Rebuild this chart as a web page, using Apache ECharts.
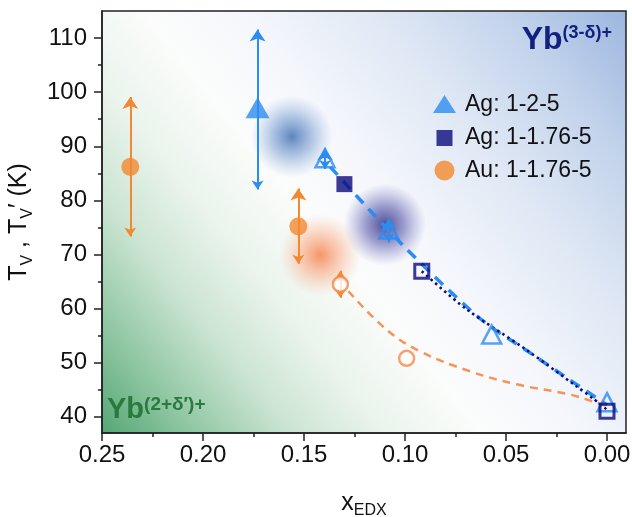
<!DOCTYPE html>
<html><head><meta charset="utf-8">
<script src="https://cdn.jsdelivr.net/npm/echarts@6/dist/echarts.min.js"></script>
<style>html,body{margin:0;padding:0;background:#fff}#c{width:632px;height:517px}</style>
</head><body><div id="c"></div>
<script>
// ---- tick values ----
const xTicks = [0, 0.05, 0.10, 0.15, 0.20, 0.25];
const xMinorTicks = [0.025, 0.075, 0.125, 0.175, 0.225];
const yTicks = [40, 50, 60, 70, 80, 90, 100, 110];
const yMinorTicks = [45, 55, 65, 75, 85, 95, 105];

// ---- Ag: 1-2-5 ----
const agA_filledX = [0.173];
const agA_filledY = [97.1];
const agA_openX = [0.1396, 0.108, 0.0571, 0.0];
const agA_openY = [87.8, 74.6, 55.2, 42.7];
// ---- Ag: 1-1.76-5 ----
const agB_filledX = [0.130];
const agB_filledY = [83.0];
const agB_openX = [0.0917, 0.0];
const agB_openY = [66.9, 41.0];
// ---- Au: 1-1.76-5 ----
const au_filledX = [0.236, 0.1528];
const au_filledY = [86.2, 75.2];
const au_openX = [0.132, 0.0992];
const au_openY = [64.5, 50.8];

// ---- error bars (arrow tips) ----
const errX    = [0.173, 0.236, 0.1528, 0.1396, 0.108, 0.132];
const errLow  = [82.0, 73.3, 68.3, 85.8, 72.2, 62.0];
const errHigh = [111.6, 99.1, 82.2, 89.6, 76.6, 67.0];
const errSet  = ['ag', 'au', 'au', 'ag', 'ag', 'au'];

// ---- fit curves ----
const fitAgAX = [0.137, 0.12, 0.10, 0.08, 0.06, 0.04, 0.02, 0.0];
const fitAgAY = [86.2, 79.2, 71.3, 64.0, 57.3, 52.3, 47.2, 42.2];
const fitAgBX = [0.0917, 0.07, 0.04, 0.015, 0.007, 0.0];
const fitAgBY = [66.9, 60.0, 52.4, 45.6, 43.4, 41.3];
const fitAuX = [0.128, 0.1091, 0.0926, 0.0678, 0.0447, 0.0183, 0.0051, 0.0];
const fitAuY = [63.2, 56.1, 52.1, 48.4, 46.0, 44.1, 42.6, 42.0];

// ---- glow blobs ----
const blobX = [0.156, 0.110, 0.142];
const blobY = [91.8, 75.5, 69.9];

const zip = (xs, ys) => xs.map((x, i) => [x, ys[i]]);
const C_BLUE = '#2d8cf0', C_NAVY = '#0b0b7d', C_ORANGE = '#f2882f';
const FONT = 'Liberation Sans, Arial, sans-serif';

const blobStyles = [
  ['rgba(45,95,170,0.95)', 'rgba(70,120,190,0.55)', 'rgba(110,150,210,0)'],
  ['rgba(25,25,120,0.95)', 'rgba(50,50,150,0.6)', 'rgba(90,90,180,0)'],
  ['rgba(245,115,55,0.95)', 'rgba(248,140,90,0.55)', 'rgba(250,170,130,0)']
];
const blobData = blobX.map((x, i) => ({
  value: [x, blobY[i]],
  itemStyle: { color: new echarts.graphic.RadialGradient(0.5, 0.5, 0.5, [
    { offset: 0, color: blobStyles[i][0] },
    { offset: 0.45, color: blobStyles[i][1] },
    { offset: 1, color: blobStyles[i][2] }
  ]) }
}));

const errData = errX.map((x, i) => ({
  coords: [[x, errLow[i]], [x, errHigh[i]]],
  lineStyle: { color: errSet[i] === 'ag' ? C_BLUE : C_ORANGE }
}));

const bg = new echarts.graphic.LinearGradient(0, 1, 1, 0, [
  { offset: 0, color: '#55a674' },
  { offset: 0.1, color: '#8cc5a0' },
  { offset: 0.22, color: '#cbe4d2' },
  { offset: 0.33, color: '#ebf4ed' },
  { offset: 0.44, color: '#fbfcfb' },
  { offset: 0.55, color: '#f5f7fc' },
  { offset: 0.7, color: '#e1e9f5' },
  { offset: 0.85, color: '#c4d4ec' },
  { offset: 1, color: '#9bb6de' }
]);

const chart = echarts.init(document.getElementById('c'), null, { renderer: 'canvas' });
const axisLineStyle = { color: '#222', width: 1.5 };
const option = {
  animation: false,
  backgroundColor: '#fff',
  grid: { left: 102, right: 6, top: 11, bottom: 84, show: true, backgroundColor: bg,
          borderColor: '#222', borderWidth: 1.5, containLabel: false, outerBoundsMode: 'none' },
  xAxis: [{
    type: 'value', inverse: true, min: -0.0094, max: 0.25, position: 'bottom',
    axisLine: { show: true, onZero: false, lineStyle: axisLineStyle },
    axisTick: { show: true, length: 8, lineStyle: axisLineStyle, customValues: xTicks },
    axisLabel: { customValues: xTicks, fontSize: 24, color: '#111', fontFamily: FONT, margin: 10,
                 formatter: v => v.toFixed(2) },
    splitLine: { show: false },
    name: '{m|x}{s|EDX}', nameLocation: 'middle', nameGap: 55,
    nameTextStyle: { rich: {
      m: { fontSize: 25, fontFamily: FONT, color: '#111', lineHeight: 25 },
      s: { fontSize: 16, fontFamily: FONT, color: '#111', lineHeight: 31, verticalAlign: 'bottom' }
    } }
  }, {
    type: 'value', inverse: true, min: -0.0094, max: 0.25, position: 'bottom',
    axisLine: { show: false, onZero: false },
    axisTick: { show: true, length: 4, lineStyle: axisLineStyle, customValues: xMinorTicks },
    axisLabel: { show: false }, splitLine: { show: false }
  }],
  yAxis: [{
    type: 'value', min: 37, max: 115, position: 'left',
    axisLine: { show: true, onZero: false, lineStyle: axisLineStyle },
    axisTick: { show: true, length: 8, lineStyle: axisLineStyle, customValues: yTicks },
    axisLabel: { customValues: yTicks, fontSize: 24, color: '#111', fontFamily: FONT, margin: 15 },
    splitLine: { show: false },
    name: '{m|T}{s|V}{m| , T}{s|V}{m|\u2032 (K)}', nameLocation: 'middle', nameGap: 59,
    nameTextStyle: { rich: {
      m: { fontSize: 25, fontFamily: FONT, color: '#111', lineHeight: 25 },
      s: { fontSize: 16, fontFamily: FONT, color: '#111', lineHeight: 33, verticalAlign: 'bottom' }
    } }
  }, {
    type: 'value', min: 37, max: 115, position: 'left',
    axisLine: { show: false, onZero: false },
    axisTick: { show: true, length: 4, lineStyle: axisLineStyle, customValues: yMinorTicks },
    axisLabel: { show: false }, splitLine: { show: false }
  }],
  legend: {
    orient: 'vertical', left: 428, top: 88, itemWidth: 23, itemHeight: 20, itemGap: 10,
    textStyle: { fontSize: 23, color: '#111', fontFamily: FONT, padding: [0, 0, 0, 4] },
    data: [
      { name: 'Ag: 1-2-5', icon: 'path://M0,20M11.5,1L23,19L0,19Z' },
      { name: 'Ag: 1-1.76-5', icon: 'path://M0,0M3.5,2.5L19.5,2.5L19.5,18.5L3.5,18.5ZM23,20' },
      { name: 'Au: 1-1.76-5', icon: 'circle' }
    ]
  },
  graphic: [
    { type: 'text', right: 20, top: 24, z: 100, silent: true,
      style: { text: '{m|Yb}{s|(3-\u03b4)+}', rich: {
        m: { fontSize: 32, fontWeight: 'bold', fontFamily: FONT, fill: '#12207f', lineHeight: 32, verticalAlign: 'bottom' },
        s: { fontSize: 18, fontWeight: 'bold', fontFamily: FONT, fill: '#12207f', lineHeight: 18, verticalAlign: 'top' }
      } } },
    { type: 'text', left: 107, top: 395, z: 100, silent: true,
      style: { text: '{m|Yb}{s|(2+\u03b4\u2032)+}', rich: {
        m: { fontSize: 29, fontWeight: 'bold', fontFamily: FONT, fill: '#2a7a3c', lineHeight: 29, verticalAlign: 'bottom' },
        s: { fontSize: 19, fontWeight: 'bold', fontFamily: FONT, fill: '#2a7a3c', lineHeight: 19, verticalAlign: 'top' }
      } } }
  ],
  series: [
    { type: 'scatter', name: 'glow', symbol: 'circle', symbolSize: 82, z: 1, silent: true,
      data: blobData },
    { type: 'line', name: 'fitAgA', data: zip(fitAgAX, fitAgAY), smooth: 0.3, symbol: 'none', showSymbol: false, z: 2,
      lineStyle: { color: C_BLUE, width: 3.5, type: [11, 8] } },
    { type: 'line', name: 'fitAgB', data: zip(fitAgBX, fitAgBY), smooth: 0.3, symbol: 'none', showSymbol: false, z: 3,
      lineStyle: { color: C_NAVY, width: 2.5, type: [2.5, 3.5] } },
    { type: 'line', name: 'fitAu', data: zip(fitAuX, fitAuY), smooth: 0.4, symbol: 'none', showSymbol: false, z: 2,
      lineStyle: { color: '#f5935a', width: 2.5, type: [8, 6] } },
    { type: 'lines', name: 'err', coordinateSystem: 'cartesian2d', z: 4, silent: true,
      symbol: ['arrow', 'arrow'], symbolSize: [9, 12],
      lineStyle: { width: 2, opacity: 1 }, data: errData },
    { type: 'scatter', name: 'Ag: 1-2-5', symbol: 'triangle', symbolSize: [24, 21], z: 5,
      itemStyle: { color: C_BLUE }, data: zip(agA_filledX, agA_filledY) },
    { type: 'scatter', name: 'Ag: 1-2-5 open', symbol: 'triangle', symbolSize: [19, 18], z: 5,
      itemStyle: { color: 'rgba(0,0,0,0)', borderColor: C_BLUE, borderWidth: 2.5 }, data: zip(agA_openX, agA_openY) },
    { type: 'scatter', name: 'Ag: 1-1.76-5', symbol: 'rect', symbolSize: 16, z: 5,
      itemStyle: { color: C_NAVY }, data: zip(agB_filledX, agB_filledY) },
    { type: 'scatter', name: 'Ag: 1-1.76-5 open', symbol: 'rect', symbolSize: 14, z: 6,
      itemStyle: { color: 'rgba(0,0,0,0)', borderColor: C_NAVY, borderWidth: 3 }, data: zip(agB_openX, agB_openY) },
    { type: 'scatter', name: 'Au: 1-1.76-5', symbol: 'circle', symbolSize: 18, z: 5,
      itemStyle: { color: C_ORANGE }, data: zip(au_filledX, au_filledY) },
    { type: 'scatter', name: 'Au: 1-1.76-5 open', symbol: 'circle', symbolSize: 15, z: 5,
      itemStyle: { color: '#fff', borderColor: '#f5884a', borderWidth: 2.5 }, data: zip(au_openX, au_openY) }
  ]
};
chart.setOption(option);
</script></body></html>
